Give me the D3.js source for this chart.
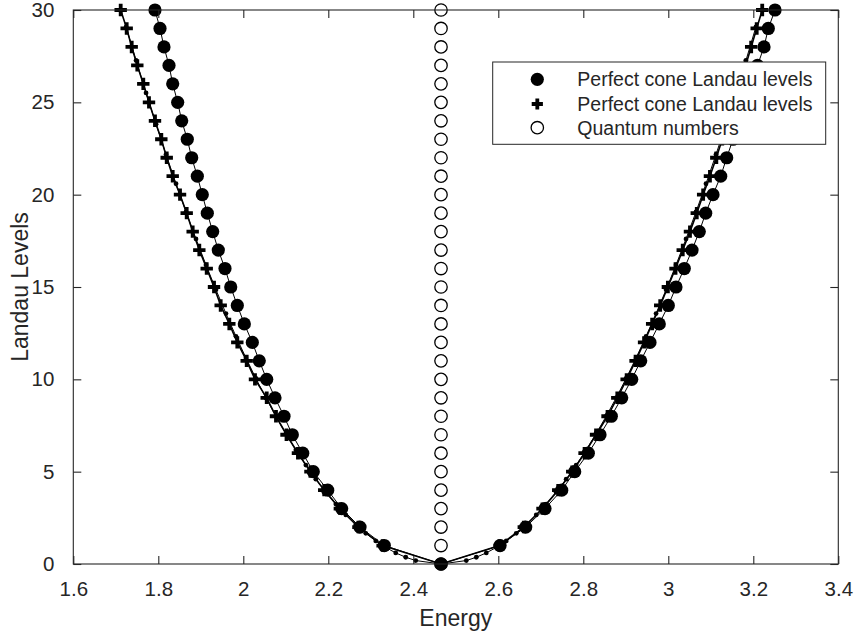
<!DOCTYPE html>
<html>
<head>
<meta charset="utf-8">
<script src="https://cdn.jsdelivr.net/npm/d3@7"></script>
<style>
  html, body { margin: 0; padding: 0; background: #fff; }
  svg { display: block; }
  text { font-family: "Liberation Sans", Arial, Helvetica, sans-serif; fill: #262626; }
</style>
</head>
<body>
<svg id="chart" width="854" height="637"></svg>
<script>
// ---------------- data ----------------
const levels = [0,1,2,3,4,5,6,7,8,9,10,11,12,13,14,15,16,17,18,19,20,21,22,23,24,25,26,27,28,29,30];

const circleLeft = [2.4652, 2.3318, 2.2746, 2.2315, 2.1986, 2.1647, 2.1398, 2.1153, 2.0958, 2.0746, 2.0551,
  2.0376, 2.0212, 2.0024, 1.9859, 1.9704, 1.9569, 1.9412, 1.9280, 1.9153, 1.9035,
  1.8918, 1.8786, 1.8682, 1.8551, 1.8456, 1.8339, 1.8252, 1.8134, 1.8040, 1.7922];
const circleRight = [2.4652, 2.6042, 2.6645, 2.7099, 2.7492, 2.7798, 2.8118, 2.8393, 2.8659, 2.8904, 2.9139,
  2.9351, 2.9569, 2.9788, 3.0000, 3.0181, 3.0376, 3.0558, 3.0729, 3.0880, 3.1052,
  3.1233, 3.1374, 3.1522, 3.1664, 3.1805, 3.1946, 3.2099, 3.2252, 3.2353, 3.2511];

const plusLeft = [2.4652, 2.3278, 2.2709, 2.2272, 2.1904, 2.1580, 2.1286, 2.1017, 2.0769, 2.0551, 2.0275,
  2.0080, 1.9859, 1.9671, 1.9468, 1.9311, 1.9139, 1.8965, 1.8809, 1.8668, 1.8511,
  1.8339, 1.8198, 1.8071, 1.7922, 1.7781, 1.7647, 1.7506, 1.7374, 1.7256, 1.7115];
const plusRight = [2.4652, 2.6030, 2.6600, 2.7040, 2.7410, 2.7740, 2.8030, 2.8300, 2.8570, 2.8800, 2.9020,
  2.9230, 2.9430, 2.9620, 2.9810, 2.9990, 3.0170, 3.0340, 3.0510, 3.0670, 3.0820,
  3.0980, 3.1130, 3.1270, 3.1410, 3.1550, 3.1690, 3.1820, 3.1950, 3.2080, 3.2210];

const quantumEnergy = 2.4652;

const dotLevels = [0.187, 0.365, 0.601, 0.895, 1.248, 1.659, 2.129, 2.658, 3.245, 3.890, 4.594, 5.357,
  6.177, 7.057, 7.995, 8.991, 10.046, 11.160, 12.331, 13.562, 14.851, 16.198, 17.605,
  19.069, 20.592, 22.174, 23.813, 25.512, 27.269, 29.084];
const dotLeft = [2.4057, 2.3822, 2.3587, 2.3352, 2.3117, 2.2882, 2.2647, 2.2412, 2.2177, 2.1942, 2.1707,
  2.1472, 2.1237, 2.1002, 2.0767, 2.0532, 2.0297, 2.0062, 1.9827, 1.9592, 1.9357,
  1.9122, 1.8887, 1.8652, 1.8417, 1.8182, 1.7947, 1.7712, 1.7477, 1.7242];
const dotRight = [2.5247, 2.5482, 2.5717, 2.5952, 2.6187, 2.6422, 2.6657, 2.6892, 2.7127, 2.7362, 2.7597,
  2.7832, 2.8067, 2.8302, 2.8537, 2.8772, 2.9007, 2.9242, 2.9477, 2.9712, 2.9947,
  3.0182, 3.0417, 3.0652, 3.0887, 3.1122, 3.1357, 3.1592, 3.1827, 3.2062];

const xTicks = [1.6, 1.8, 2, 2.2, 2.4, 2.6, 2.8, 3, 3.2, 3.4];
const yTicks = [0, 5, 10, 15, 20, 25, 30];
const legendLabels = ["Perfect cone Landau levels", "Perfect cone Landau levels", "Quantum numbers"];

// ---------------- layout ----------------
const svg = d3.select("#chart");
const L = 73.3, R = 838.3, T = 10, B = 564;
const x = d3.scaleLinear().domain([1.6, 3.4]).range([L, R]);
const y = d3.scaleLinear().domain([0, 30]).range([B, T]);
const axisColor = "#262626";

function branch(left, right, lv) {
  const pts = [];
  for (let i = left.length - 1; i >= 0; i--) pts.push([left[i], lv[i]]);
  for (let i = 1; i < right.length; i++) pts.push([right[i], lv[i]]);
  return pts;
}
const line = d3.line().x(d => x(d[0])).y(d => y(d[1]));

const plot = svg.append("g");

// circle series
const circPts = branch(circleLeft, circleRight, levels);
plot.append("path").attr("d", line(circPts)).attr("fill", "none").attr("stroke", "#000").attr("stroke-width", 1);
plot.selectAll("circle.fc").data(circPts).enter().append("circle")
  .attr("class", "fc").attr("cx", d => x(d[0])).attr("cy", d => y(d[1])).attr("r", 6.6).attr("fill", "#000");

// plus series
const plusPts = branch(plusLeft, plusRight, levels);
plot.append("path").attr("d", line(plusPts)).attr("fill", "none").attr("stroke", "#000").attr("stroke-width", 1.6);
const plusPath = (cx, cy, s) => `M${cx - s},${cy}H${cx + s}M${cx},${cy - s}V${cy + s}`;
plot.selectAll("path.pl").data(plusPts).enter().append("path")
  .attr("class", "pl").attr("d", d => plusPath(x(d[0]), y(d[1]), 6.2))
  .attr("stroke", "#000").attr("stroke-width", 3.8).attr("fill", "none");

// quantum numbers (open circles)
plot.selectAll("circle.qn").data(levels).enter().append("circle")
  .attr("class", "qn").attr("cx", x(quantumEnergy)).attr("cy", d => y(d)).attr("r", 6.2)
  .attr("fill", "none").attr("stroke", "#000").attr("stroke-width", 1.3);

// fine dotted curve
const dotPts = [];
for (let i = dotLeft.length - 1; i >= 0; i--) dotPts.push([dotLeft[i], dotLevels[i]]);
dotPts.push([quantumEnergy, 0]);
for (let i = 0; i < dotRight.length; i++) dotPts.push([dotRight[i], dotLevels[i]]);
plot.append("path").attr("d", line(dotPts)).attr("fill", "none").attr("stroke", "#000").attr("stroke-width", 1);
plot.selectAll("circle.dt").data(dotPts.filter(d => d[1] > 0)).enter().append("circle")
  .attr("class", "dt").attr("cx", d => x(d[0])).attr("cy", d => y(d[1])).attr("r", 2.4).attr("fill", "#000");

// ---------------- axes ----------------
const tickLen = 8;
const ax = svg.append("g");
ax.append("rect").attr("x", L).attr("y", T).attr("width", R - L).attr("height", B - T)
  .attr("fill", "none").attr("stroke", axisColor).attr("stroke-width", 1.1);

const xb = ax.append("g").attr("transform", `translate(0,${B})`)
  .call(d3.axisBottom(x).tickValues(xTicks).tickSize(-tickLen).tickPadding(17).tickFormat(d3.format("~g")));
const xt = ax.append("g").attr("transform", `translate(0,${T})`)
  .call(d3.axisTop(x).tickValues(xTicks).tickSize(-tickLen).tickFormat(""));
const yl = ax.append("g").attr("transform", `translate(${L},0)`)
  .call(d3.axisLeft(y).tickValues(yTicks).tickSize(-tickLen).tickPadding(19).tickFormat(d3.format("~g")));
const yr = ax.append("g").attr("transform", `translate(${R},0)`)
  .call(d3.axisRight(y).tickValues(yTicks).tickSize(-tickLen).tickFormat(""));
[xb, xt, yl, yr].forEach(g => {
  g.select(".domain").remove();
  g.selectAll(".tick line").attr("stroke", axisColor).attr("stroke-width", 1.1);
  g.selectAll(".tick text").attr("fill", axisColor).style("font-size", "20.5px")
    .style("font-family", '"Liberation Sans", Arial, sans-serif');
});

// axis labels
svg.append("text").attr("x", (L + R) / 2).attr("y", 626).attr("text-anchor", "middle")
  .style("font-size", "23px").text("Energy");
svg.append("text").attr("transform", `translate(28,${(T + B) / 2}) rotate(-90)`).attr("text-anchor", "middle")
  .style("font-size", "23px").text("Landau Levels");

// ---------------- legend ----------------
const lg = svg.append("g");
lg.append("rect").attr("x", 492.7).attr("y", 62).attr("width", 333).attr("height", 82.3)
  .attr("fill", "#fff").attr("stroke", axisColor).attr("stroke-width", 1);
const rowsY = [79.3, 104, 127.7];
const mx = 537.3, tx = 577.3;
lg.append("circle").attr("cx", mx).attr("cy", rowsY[0]).attr("r", 6.6).attr("fill", "#000");
lg.append("path").attr("d", plusPath(mx, rowsY[1], 5.6)).attr("stroke", "#000").attr("stroke-width", 3.8);
lg.append("circle").attr("cx", mx).attr("cy", rowsY[2]).attr("r", 6.2).attr("fill", "none")
  .attr("stroke", "#000").attr("stroke-width", 1.3);
lg.selectAll("text.lt").data(legendLabels).enter().append("text")
  .attr("class", "lt").attr("x", tx).attr("y", (d, i) => rowsY[i]).attr("dy", "0.35em")
  .style("font-size", "19.5px").text(d => d);
</script>
</body>
</html>
